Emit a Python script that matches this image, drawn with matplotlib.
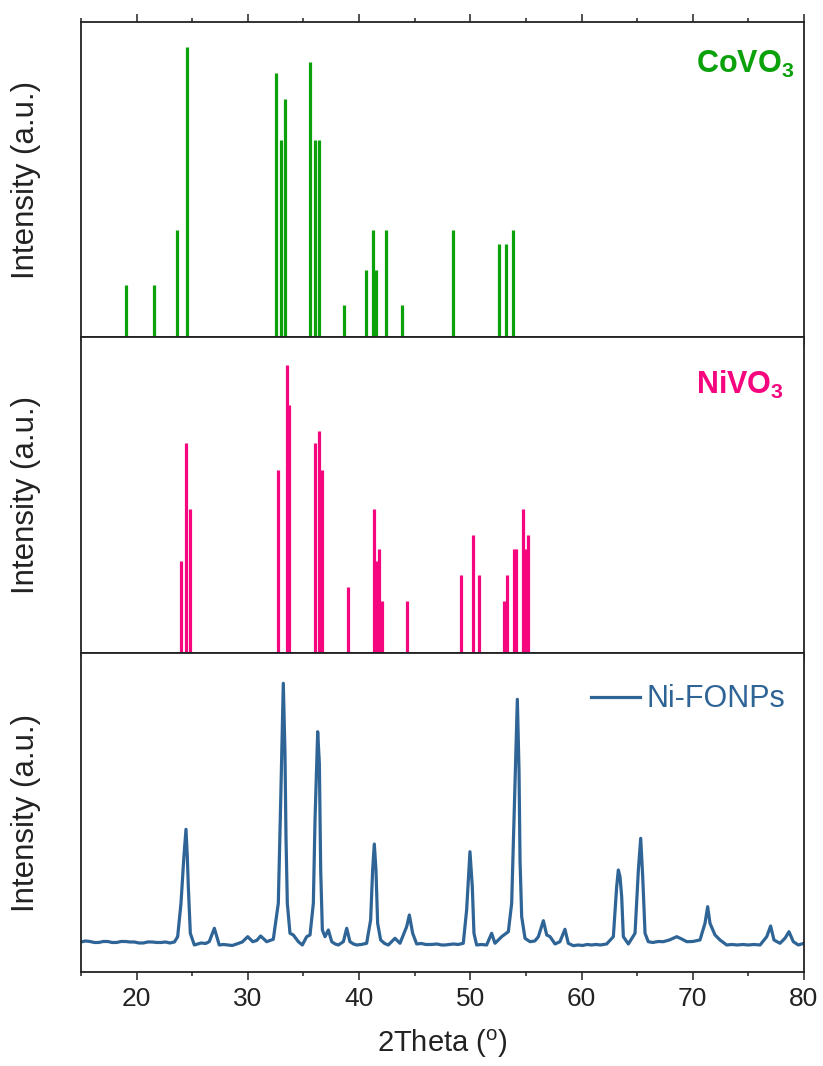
import numpy as np
import matplotlib.pyplot as plt
from matplotlib.ticker import MultipleLocator

plt.rcParams['font.family'] = ['Liberation Sans', 'DejaVu Sans']
plt.rcParams['mathtext.fontset'] = 'custom'
plt.rcParams['mathtext.rm'] = 'Liberation Sans'
plt.rcParams['mathtext.bf'] = 'Liberation Sans:bold'

# reference pattern CoVO3 (2theta, relative intensity %)
covo3_pos = [19.07, 21.56, 23.66, 24.50, 32.53, 32.95, 33.37, 35.59, 36.04, 36.43,
             38.67, 40.65, 41.25, 41.49, 42.39, 43.89, 48.43, 52.58, 53.21, 53.87]
covo3_int = [18, 18, 37, 100, 91, 68, 82, 95, 68, 68,
             11, 23, 37, 23, 37, 11, 37, 32, 32, 37]

# reference pattern NiVO3
nivo3_pos = [23.99, 24.47, 24.80, 32.74, 33.49, 33.67, 36.04, 36.37, 36.67, 38.98,
             41.31, 41.58, 41.79, 42.06, 44.33, 49.19, 50.27, 50.78, 53.06, 53.27,
             53.96, 54.10, 54.70, 54.97, 55.15]
nivo3_int = [32, 73, 50, 63.5, 100, 86, 73, 77, 63.5, 23,
             50, 32, 36, 18, 18, 27, 41, 27, 18, 27,
             36, 36, 50, 36, 41]

# measured pattern Ni-FONPs
fonp_2theta = [15.0, 15.4, 15.8, 16.2, 16.6, 17.0, 17.4, 17.8, 18.2, 18.6, 19.0, 19.4,
               19.8, 20.2, 20.6, 21.0, 21.4, 21.8, 22.2, 22.6, 23.0, 23.4,
               23.69, 23.99, 24.25, 24.44, 24.56, 24.65, 24.83, 25.19, 25.5, 25.8, 26.2,
               26.53, 26.99, 27.43, 27.8, 28.2, 28.6, 29.0, 29.5, 29.99, 30.44, 30.8,
               31.15, 31.69, 32.29, 32.74, 32.95, 33.19, 33.34, 33.43, 33.55, 33.79,
               34.09, 34.54, 34.9, 35.29, 35.59, 35.89, 36.04, 36.28, 36.43, 36.55,
               36.7, 36.94, 37.24, 37.54, 37.85, 38.14, 38.59, 38.89, 39.18, 39.5,
               39.78, 40.2, 40.68, 41.04, 41.22, 41.37, 41.52, 41.67, 41.94, 42.3,
               42.63, 43.23, 43.68, 44.28, 44.52, 44.82, 45.18, 45.6, 46.0, 46.5,
               47.0, 47.4, 47.73, 48.1, 48.5, 48.9, 49.37, 49.67, 49.97, 50.18, 50.33,
               50.57, 51.0, 51.47, 51.92, 52.22, 52.82, 53.42, 53.72, 53.93, 54.23,
               54.38, 54.47, 54.62, 54.92, 55.37, 55.8, 56.12, 56.57, 56.87, 57.17,
               57.62, 58.06, 58.51, 58.81, 59.26, 59.7, 60.1, 60.5, 60.9, 61.3, 61.7,
               62.26, 62.86, 63.16, 63.31, 63.46, 63.61, 63.76, 64.21, 64.81, 65.11,
               65.32, 65.5, 65.71, 66.0, 66.4, 66.9, 67.35, 67.9, 68.56, 69.0, 69.46,
               70.0, 70.65, 71.1, 71.34, 71.55, 72.0, 72.45, 73.05, 73.5, 74.0, 74.5,
               75.0, 75.5, 76.05, 76.65, 77.0, 77.3, 77.84, 78.29, 78.65, 79.04,
               79.49, 80.0]
fonp_int = [30, 31, 30.5, 29.5, 29.5, 30.5, 30.5, 29.5, 29.5, 30.5, 30.5, 30,
            30, 29, 29, 30, 30, 29.5, 29.5, 30, 29, 30,
            35.3, 68.7, 115, 142.7, 115, 85.3, 38.7, 27, 28, 29, 28.5,
            30.3, 43.7, 27, 27.5, 27, 26.5, 28, 30, 35.3, 30.3, 31.5,
            36, 30.3, 32.7, 68.7, 168.7, 288.7, 218.7, 135.3, 68.7, 38.7,
            37, 30.3, 27, 35.3, 37, 68.7, 152, 240.3, 208.7, 102,
            42, 35.3, 42, 30.3, 28, 27, 30.3, 43.7, 30.3, 28,
            27, 27.5, 28.7, 52, 102, 128, 102, 48.7, 32, 28.5,
            27, 33.7, 28.7, 45.3, 57, 38.7, 28, 28.5, 27.5, 27.5,
            28, 27, 27, 27.5, 28, 27.5, 28.7, 62, 120.3, 85.3, 38.7,
            27, 27.5, 27, 38.7, 28.7, 35.3, 40.3, 68.7, 152, 272.7,
            202, 112, 55.3, 33.7, 30.3, 31, 35.3, 51.3, 37, 35.3,
            28, 30.3, 42.7, 28.7, 26.3, 27, 26.5, 27.5, 27, 27.5, 27,
            28, 35.3, 85.3, 102, 95.3, 75.3, 35.3, 28, 38.7, 102,
            133.7, 95.3, 38.7, 30.3, 29.5, 30.5, 30.3, 32, 35.3, 33, 30.3,
            30.5, 32, 48.7, 65.3, 48.7, 37, 32, 27, 27.5, 27, 27.5,
            27, 27.5, 27, 35.3, 46, 32, 28.7, 33.7, 40.3, 30.3,
            27, 28.7]

green = '#0BA10B'
pink = '#F5067F'
blue = '#2F6496'
dark = '#222222'

fig = plt.figure(figsize=(8.23, 10.66), dpi=100)
left, width = 0.0984, 0.8785
ax_top = fig.add_axes([left, 0.6839, width, 0.2955])
ax_mid = fig.add_axes([left, 0.3874, width, 0.2964])
ax_bot = fig.add_axes([left, 0.0882, width, 0.2992])

ax_top.vlines(covo3_pos, 0, covo3_int, color=green, lw=2.3)
ax_top.set_ylim(0, 108.7)
ax_top.text(0.986, 0.914, r'CoVO$_\mathbf{3}$', transform=ax_top.transAxes,
            ha='right', va='top', color=green, fontsize=22, fontweight='bold')

ax_mid.vlines(nivo3_pos, 0, nivo3_int, color=pink, lw=2.3)
ax_mid.set_ylim(0, 109.7)
ax_mid.text(0.973, 0.9, r'NiVO$_\mathbf{3}$', transform=ax_mid.transAxes,
            ha='right', va='top', color=pink, fontsize=22, fontweight='bold')

ax_bot.plot(fonp_2theta, fonp_int, color=blue, lw=2.3, label='Ni-FONPs')
ax_bot.set_ylim(0, 319)
leg = ax_bot.legend(loc='upper right', bbox_to_anchor=(0.995, 0.95), frameon=False,
                    fontsize=22, handlelength=1.6, handletextpad=0.2, borderpad=0)
for t in leg.get_texts():
    t.set_color(blue)

for ax in (ax_top, ax_mid, ax_bot):
    ax.set_xlim(15, 80)
    ax.xaxis.set_major_locator(MultipleLocator(10))
    ax.xaxis.set_minor_locator(MultipleLocator(5))
    ax.set_yticks([])
    for s in ax.spines.values():
        s.set_color(dark)
        s.set_linewidth(1.3)
    ax.tick_params(axis='x', which='major', direction='out', length=6, width=1.1,
                   color=dark, labelsize=19, labelcolor=dark, pad=5)
    ax.tick_params(axis='x', which='minor', direction='out', length=3.2, width=1.1,
                   color=dark)
    ax.set_ylabel('Intensity (a.u.)', fontsize=22.5, color=dark)
    ax.yaxis.set_label_coords(-0.055, 0.5)

ax_top.tick_params(axis='x', which='both', top=True, labelbottom=False)
ax_mid.tick_params(axis='x', which='both', labelbottom=False)
ax_bot.set_xlabel('2Theta ($^\\mathrm{o}$)', fontsize=21, color=dark, labelpad=12)

fig.savefig('out.png', dpi=100)
